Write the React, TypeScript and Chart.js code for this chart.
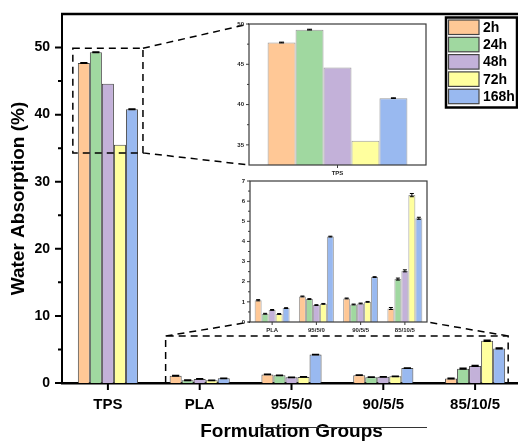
import React, { useEffect, useRef } from 'react';
import { Chart, registerables } from 'chart.js';

Chart.register(...registerables);

// ---------- data ----------
const groups = ['TPS', 'PLA', '95/5/0', '90/5/5', '85/10/5'];
const seriesLabels = ['2h', '24h', '48h', '72h', '168h'];
const fillColors = ['#FFC896', '#A0D8A0', '#C3B1D9', '#FFFF9E', '#99B9F0'];

const v2h = [47.7, 1.08, 1.27, 1.17, 0.67];
const v24h = [49.3, 0.41, 1.14, 0.87, 2.13];
const v48h = [44.6, 0.6, 0.84, 0.92, 2.54];
const v72h = [35.5, 0.4, 0.9, 1.0, 6.3];
const v168h = [40.8, 0.69, 4.24, 2.23, 5.15];

const e2h = [0.05, 0.03, 0.02, 0.02, 0.05];
const e24h = [0.05, 0.02, 0.02, 0.02, 0.05];
const e48h = [0.0, 0.02, 0.02, 0.02, 0.05];
const e72h = [0.0, 0.02, 0.02, 0.02, 0.08];
const e168h = [0.04, 0.02, 0.02, 0.02, 0.05];

const mainYTicks = [0, 10, 20, 30, 40, 50];
const mainYMinor = [5, 15, 25, 35, 45];
const inset1YTicks = [35, 40, 45, 50];
const inset1YMinor = [37.5, 42.5, 47.5];
const inset2YTicks = [0, 1, 2, 3, 4, 5, 6, 7];
const inset2YMinor = [0.5, 1.5, 2.5, 3.5, 4.5, 5.5, 6.5];

const values = [v2h, v24h, v48h, v72h, v168h];
const errors = [e2h, e24h, e48h, e72h, e168h];

// ---------- layout ----------
const FONT = "'Liberation Sans', Arial, Helvetica, sans-serif";
const MAIN_W = 530;
const H = 441;
const INSET1 = { x: 249, y: 24, w: 177, h: 141 };
const INSET2 = { x: 250, y: 181, w: 177, h: 141 };

function drawErrorBars(chart: any, capFrac: number, capMin: number, lw: number) {
  const ctx = chart.ctx;
  const ys = chart.scales.y;
  ctx.save();
  ctx.strokeStyle = '#000';
  ctx.lineWidth = lw;
  ctx.setLineDash([]);
  chart.data.datasets.forEach((ds: any, i: number) => {
    const meta = chart.getDatasetMeta(i);
    meta.data.forEach((el: any, j: number) => {
      const e = ds.errors ? ds.errors[j] : 0;
      if (!e) return;
      const v = ds.data[j];
      const yt = ys.getPixelForValue(v + e);
      const yb = ys.getPixelForValue(v - e);
      const half = Math.max(capMin, el.width * capFrac) / 2;
      ctx.beginPath();
      ctx.moveTo(el.x, yt);
      ctx.lineTo(el.x, yb);
      ctx.moveTo(el.x - half, yt);
      ctx.lineTo(el.x + half, yt);
      ctx.moveTo(el.x - half, yb);
      ctx.lineTo(el.x + half, yb);
      ctx.stroke();
    });
  });
  ctx.restore();
}

function drawTickMarks(chart: any, major: number[], minor: number[], majLen: number, minLen: number, xLen: number, lw: number, color: string) {
  const ctx = chart.ctx;
  const ys = chart.scales.y;
  const xs = chart.scales.x;
  const a = chart.chartArea;
  ctx.save();
  ctx.strokeStyle = color;
  ctx.lineWidth = lw;
  ctx.setLineDash([]);
  ctx.beginPath();
  major.forEach((v) => {
    const y = ys.getPixelForValue(v);
    ctx.moveTo(a.left, y);
    ctx.lineTo(a.left - majLen, y);
  });
  minor.forEach((v) => {
    const y = ys.getPixelForValue(v);
    ctx.moveTo(a.left, y);
    ctx.lineTo(a.left - minLen, y);
  });
  chart.data.labels.forEach((_: any, i: number) => {
    const x = xs.getPixelForValue(i);
    ctx.moveTo(x, a.bottom);
    ctx.lineTo(x, a.bottom + xLen);
  });
  ctx.stroke();
  ctx.restore();
}

const mainPlugin = {
  id: 'mainDeco',
  afterDatasetsDraw(chart: any) {
    drawErrorBars(chart, 0.6, 4, 1.5);
  },
  afterDraw(chart: any) {
    const ctx = chart.ctx;
    const a = chart.chartArea;
    const ys = chart.scales.y;
    // top and right frame
    ctx.save();
    ctx.strokeStyle = '#000';
    ctx.lineWidth = 2.5;
    ctx.beginPath();
    ctx.moveTo(a.left - 1, a.top);
    ctx.lineTo(a.right, a.top);
    ctx.lineTo(a.right, a.bottom);
    ctx.stroke();
    ctx.restore();

    drawTickMarks(chart, mainYTicks, mainYMinor, 7, 4, 7, 2, '#000');

    // zoom boxes
    const m0 = chart.getDatasetMeta(0).data;
    const m4 = chart.getDatasetMeta(4).data;
    const b1l = m0[0].x - m0[0].width / 2 - 5;
    const b1r = m4[0].x + m4[0].width / 2 + 5;
    const b1t = ys.getPixelForValue(49.9);
    const b1b = ys.getPixelForValue(34.3);
    const b2l = m0[1].x - m0[1].width / 2 - 4;
    const b2r = m4[4].x + m4[4].width / 2 + 3;
    const b2t = ys.getPixelForValue(7.0);
    const b2b = ys.getPixelForValue(0);

    ctx.save();
    ctx.strokeStyle = '#000';
    ctx.lineWidth = 1.5;
    ctx.setLineDash([7, 5]);
    ctx.beginPath();
    ctx.rect(b1l, b1t, b1r - b1l, b1b - b1t);
    ctx.moveTo(b1r, b1t);
    ctx.lineTo(INSET1.x, INSET1.y);
    ctx.moveTo(b1r, b1b);
    ctx.lineTo(INSET1.x, INSET1.y + INSET1.h);
    ctx.moveTo(b2l, b2b);
    ctx.lineTo(b2l, b2t);
    ctx.lineTo(b2r, b2t);
    ctx.lineTo(b2r, b2b);
    ctx.moveTo(b2l, b2t);
    ctx.lineTo(INSET2.x, INSET2.y + INSET2.h);
    ctx.moveTo(b2r, b2t);
    ctx.lineTo(INSET2.x + INSET2.w, INSET2.y + INSET2.h);
    ctx.stroke();
    ctx.restore();

    // legend
    const lx = 446, ly = 17.5, lw = 71, lh = 90;
    ctx.save();
    ctx.fillStyle = '#fff';
    ctx.fillRect(lx, ly, lw, lh);
    ctx.strokeStyle = '#000';
    ctx.lineWidth = 2.5;
    ctx.strokeRect(lx, ly, lw, lh);
    ctx.font = `bold 14px ${FONT}`;
    ctx.textBaseline = 'middle';
    ctx.textAlign = 'left';
    seriesLabels.forEach((lab, i) => {
      const sy = ly + 2.5 + i * 17.3;
      ctx.fillStyle = fillColors[i];
      ctx.fillRect(lx + 2.5, sy, 30.5, 14.5);
      ctx.strokeStyle = '#444';
      ctx.lineWidth = 1.2;
      ctx.strokeRect(lx + 2.5, sy, 30.5, 14.5);
      ctx.fillStyle = '#000';
      ctx.fillText(lab, lx + 37, sy + 8);
    });
    ctx.restore();

    // stray line across the axis title
    ctx.save();
    ctx.strokeStyle = '#333';
    ctx.lineWidth = 1;
    ctx.beginPath();
    ctx.moveTo(255, 427.5);
    ctx.lineTo(427, 427.5);
    ctx.stroke();
    ctx.restore();
  },
};

function fitY(width: number) {
  return (s: any) => {
    s.width = width;
    s.paddingTop = 0;
    s.paddingBottom = 0;
  };
}
function fitX(height: number) {
  return (s: any) => {
    s.height = height;
    s.paddingLeft = 0;
    s.paddingRight = 0;
  };
}

function mainConfig(): any {
  return {
    type: 'bar',
    data: {
      labels: groups,
      datasets: seriesLabels.map((lab, i) => ({
        label: lab,
        data: values[i],
        errors: errors[i],
        backgroundColor: fillColors[i],
        borderColor: '#4a4a4a',
        borderWidth: 1,
        categoryPercentage: 0.655,
        barPercentage: 1,
      })),
    },
    options: {
      responsive: false,
      maintainAspectRatio: false,
      devicePixelRatio: 1,
      animation: false,
      layout: { padding: { top: 14, right: 9, left: 0, bottom: 0 } },
      plugins: { legend: { display: false }, tooltip: { enabled: false }, title: { display: false } },
      scales: {
        x: {
          type: 'category',
          offset: true,
          afterFit: fitX(58),
          grid: { display: false, drawTicks: false },
          border: { display: true, width: 2.5, color: '#000' },
          ticks: { padding: 13, color: '#000', maxRotation: 0, autoSkip: false, font: { family: FONT, size: 15, weight: 'bold' } },
          title: { display: true, text: 'Formulation Groups', color: '#000', font: { family: FONT, size: 19, weight: 'bold', lineHeight: 1 }, padding: { top: 0, bottom: 0 } },
        },
        y: {
          min: 0,
          max: 55,
          afterBuildTicks: (s: any) => { s.ticks = mainYTicks.map((v) => ({ value: v })); },
          afterFit: fitY(62),
          grid: { display: false, drawTicks: false },
          border: { display: true, width: 2, color: '#000' },
          ticks: { padding: 12, color: '#000', font: { family: FONT, size: 14, weight: 'bold' } },
          title: { display: true, text: 'Water Absorption (%)', color: '#000', font: { family: FONT, size: 19, weight: 'bold' }, padding: { top: 7, bottom: 0 } },
        },
      },
    },
    plugins: [mainPlugin],
  };
}

function insetConfig(idx: number[], yMin: number, yMax: number, major: number[], minor: number[], cap: number): any {
  const plugin = {
    id: 'insetDeco',
    afterDatasetsDraw(chart: any) {
      drawErrorBars(chart, 0, cap, 1);
    },
    afterDraw(chart: any) {
      const ctx = chart.ctx;
      const a = chart.chartArea;
      ctx.save();
      ctx.strokeStyle = '#3a3a3a';
      ctx.lineWidth = 1.2;
      ctx.strokeRect(a.left, a.top, a.right - a.left, a.bottom - a.top);
      ctx.restore();
      drawTickMarks(chart, major, minor, 3, 2, 3, 1, '#3a3a3a');
    },
  };
  return {
    type: 'bar',
    data: {
      labels: idx.map((i) => groups[i]),
      datasets: seriesLabels.map((lab, i) => ({
        label: lab,
        data: idx.map((k) => values[i][k]),
        errors: idx.map((k) => errors[i][k]),
        backgroundColor: fillColors[i],
        borderColor: '#9a9a9a',
        borderWidth: 1,
        categoryPercentage: 0.79,
        barPercentage: 1,
      })),
    },
    options: {
      responsive: false,
      maintainAspectRatio: false,
      devicePixelRatio: 1,
      animation: false,
      layout: { padding: { top: 10, right: 4, left: 0, bottom: 0 } },
      plugins: { legend: { display: false }, tooltip: { enabled: false } },
      scales: {
        x: {
          type: 'category',
          offset: true,
          afterFit: fitX(14),
          grid: { display: false, drawTicks: false },
          border: { display: false },
          ticks: { padding: 5, color: '#222', maxRotation: 0, autoSkip: false, font: { family: FONT, size: 6, weight: 'bold' } },
        },
        y: {
          min: yMin,
          max: yMax,
          afterBuildTicks: (s: any) => { s.ticks = major.map((v) => ({ value: v })); },
          afterFit: fitY(30),
          grid: { display: false, drawTicks: false },
          border: { display: false },
          ticks: { padding: 5, color: '#222', font: { family: FONT, size: 6, weight: 'bold' } },
        },
      },
    },
    plugins: [plugin],
  };
}

export default function App() {
  const mainRef = useRef<HTMLCanvasElement>(null);
  const in1Ref = useRef<HTMLCanvasElement>(null);
  const in2Ref = useRef<HTMLCanvasElement>(null);

  useEffect(() => {
    const c1 = new Chart(mainRef.current as HTMLCanvasElement, mainConfig());
    const c2 = new Chart(in1Ref.current as HTMLCanvasElement, insetConfig([0], 32.5, 50, inset1YTicks, inset1YMinor, 5));
    const c3 = new Chart(in2Ref.current as HTMLCanvasElement, insetConfig([1, 2, 3, 4], 0, 7, inset2YTicks, inset2YMinor, 4));
    return () => {
      c1.destroy();
      c2.destroy();
      c3.destroy();
    };
  }, []);

  const w1 = INSET1.w + 34, h1 = INSET1.h + 24;
  const w2 = INSET2.w + 34, h2 = INSET2.h + 24;
  return (
    <div style={{ position: 'fixed', left: 0, top: 0, width: 518, height: H, overflow: 'hidden', background: '#fff' }}>
      <canvas ref={mainRef} width={MAIN_W} height={H} style={{ position: 'absolute', left: 0, top: 0, width: MAIN_W, height: H }} />
      <canvas ref={in1Ref} width={w1} height={h1} style={{ position: 'absolute', left: INSET1.x - 30, top: INSET1.y - 10, width: w1, height: h1 }} />
      <canvas ref={in2Ref} width={w2} height={h2} style={{ position: 'absolute', left: INSET2.x - 30, top: INSET2.y - 10, width: w2, height: h2 }} />
    </div>
  );
}
